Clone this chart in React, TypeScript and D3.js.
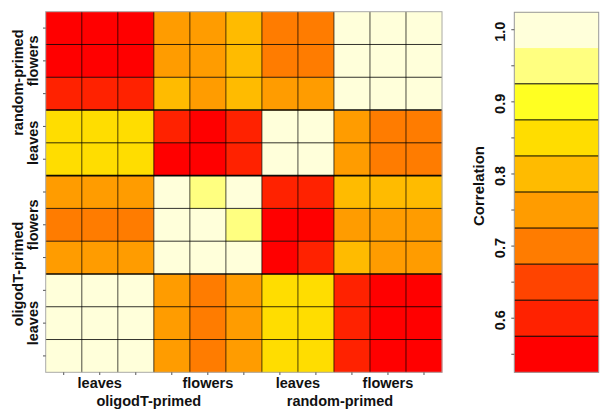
import React from "react";
import * as d3 from "d3";

// Samples in matrix order (columns left→right; rows drawn bottom→top)
const samples = ["OL1", "OL2", "OL3", "OF1", "OF2", "OF3", "RL1", "RL2", "RF1", "RF2", "RF3"];
const tissueLabels = ["leaves", "flowers", "leaves", "flowers"];
const tissueCounts = [3, 3, 2, 3];
const primerLabels = ["oligodT-primed", "random-primed"];
const primerTissueCounts = [2, 2];

// Correlation matrix (row i = sample i)
const corr: number[][] = [
  [1.0, 0.98, 0.98, 0.75, 0.7, 0.75, 0.85, 0.85, 0.6, 0.55, 0.55],
  [0.98, 1.0, 0.98, 0.75, 0.7, 0.75, 0.85, 0.85, 0.6, 0.55, 0.55],
  [0.98, 0.98, 1.0, 0.75, 0.7, 0.75, 0.85, 0.85, 0.6, 0.55, 0.55],
  [0.75, 0.75, 0.75, 1.0, 0.98, 0.98, 0.55, 0.6, 0.8, 0.75, 0.75],
  [0.7, 0.7, 0.7, 0.98, 1.0, 0.95, 0.55, 0.55, 0.75, 0.75, 0.75],
  [0.75, 0.75, 0.75, 0.98, 0.95, 1.0, 0.6, 0.6, 0.8, 0.8, 0.8],
  [0.85, 0.85, 0.85, 0.55, 0.55, 0.6, 1.0, 0.98, 0.75, 0.7, 0.7],
  [0.85, 0.85, 0.85, 0.6, 0.55, 0.6, 0.98, 1.0, 0.75, 0.7, 0.7],
  [0.6, 0.6, 0.6, 0.8, 0.75, 0.8, 0.75, 0.75, 1.0, 0.98, 0.98],
  [0.55, 0.55, 0.55, 0.75, 0.75, 0.8, 0.7, 0.7, 0.98, 1.0, 0.98],
  [0.55, 0.55, 0.55, 0.75, 0.75, 0.8, 0.7, 0.7, 0.98, 0.98, 1.0],
];

// Legend bins
const binEdges = [0.525, 0.575, 0.625, 0.675, 0.725, 0.775, 0.825, 0.875, 0.925, 0.975, 1.025];
const binColors = [
  "#FF0000", "#FF2200", "#FF4400", "#FF7C00", "#FF9C00",
  "#FFBB00", "#FFDD00", "#FFFF22", "#FFFF80", "#FFFFDA",
];
const legendTicks = [0.55, 0.6, 0.65, 0.7, 0.75, 0.8, 0.85, 0.9, 0.95, 1.0];
const legendLabels = [0.6, 0.7, 0.8, 0.9, 1.0];
const legendTitle = "Correlation";

const FONT = "'Liberation Sans', Arial, Helvetica, sans-serif";

export default function App() {
  const W = 600, H = 419;
  const left = 45.7, right = 442, top = 11.7, bottom = 372.3;
  const n = samples.length;

  const x = d3.scaleBand<number>().domain(d3.range(n)).range([left, right]).padding(0);
  const y = d3.scaleBand<number>().domain(d3.range(n)).range([bottom, top]).padding(0);
  const color = d3.scaleThreshold<number, string>().domain(binEdges.slice(1, -1)).range(binColors);

  const lx0 = 514.3, lx1 = 598.7;
  const ly = d3.scaleLinear().domain([binEdges[0], binEdges[binEdges.length - 1]]).range([bottom, top]);

  const tissueStarts: number[] = [];
  let acc = 0;
  tissueCounts.forEach((c) => { tissueStarts.push(acc); acc += c; });
  const tissueCenterX = tissueCounts.map((c, i) => (x(tissueStarts[i])! + x(tissueStarts[i] + c - 1)! + x.bandwidth()) / 2);
  const tissueCenterY = tissueCounts.map((c, i) => (y(tissueStarts[i])! + y(tissueStarts[i] + c - 1)! + y.bandwidth()) / 2);
  const primerGroups = primerTissueCounts.map((c, i) => {
    const first = primerTissueCounts.slice(0, i).reduce((a, b) => a + b, 0);
    return d3.range(first, first + c);
  });
  const groupSpan = (g: number[]) => {
    const s = tissueStarts[g[0]];
    const e = tissueStarts[g[g.length - 1]] + tissueCounts[g[g.length - 1]] - 1;
    return [s, e];
  };
  const primerCenterX = primerGroups.map((g) => { const [s, e] = groupSpan(g); return (x(s)! + x(e)! + x.bandwidth()) / 2; });
  const primerCenterY = primerGroups.map((g) => { const [s, e] = groupSpan(g); return (y(s)! + y(e)! + y.bandwidth()) / 2; });
  const primerOffX = [-5, -12];
  const primerOffY = [0, -11];
  const boundaryIdx = tissueStarts.slice(1);

  return (
    <svg width={W} height={H} style={{ position: "absolute", left: 0, top: 0, background: "#fff" }} fontFamily={FONT}>
      {corr.map((row, i) =>
        row.map((v, j) => (
          <rect key={`c${i}-${j}`} x={x(j)} y={y(i)} width={x.bandwidth() + 0.3} height={y.bandwidth() + 0.3} fill={color(v)} />
        ))
      )}
      {d3.range(1, n).map((j) => (
        <line key={`v${j}`} x1={x(j)} x2={x(j)} y1={top} y2={bottom} stroke="#000" strokeOpacity={0.5} strokeWidth={1.4} />
      ))}
      {d3.range(1, n).map((i) => (
        <line key={`h${i}`} x1={left} x2={right} y1={y(i)! + y.bandwidth()} y2={y(i)! + y.bandwidth()} stroke="#000"
          strokeOpacity={boundaryIdx.includes(i) ? 0.95 : 0.8} strokeWidth={boundaryIdx.includes(i) ? 1.6 : 1} />
      ))}
      <rect x={left} y={top} width={right - left} height={bottom - top} fill="none" stroke="#aaa" strokeWidth={1} />
      {d3.range(n).map((i) => (
        <line key={`ty${i}`} x1={left - 2.7} x2={left} y1={y(i)! + y.bandwidth() / 2} y2={y(i)! + y.bandwidth() / 2} stroke="#555" />
      ))}
      {d3.range(n).map((j) => (
        <line key={`tx${j}`} y1={bottom} y2={bottom + 2.7} x1={x(j)! + x.bandwidth() / 2} x2={x(j)! + x.bandwidth() / 2} stroke="#555" />
      ))}
      {tissueLabels.map((t, i) => (
        <text key={`xl${i}`} x={tissueCenterX[i]} y={382.7} textAnchor="middle" dominantBaseline="central" fontWeight="bold" fontSize={14.5} fill="#111">{t}</text>
      ))}
      {primerLabels.map((p, i) => (
        <text key={`xp${i}`} x={primerCenterX[i] + primerOffX[i]} y={400.7} textAnchor="middle" dominantBaseline="central" fontWeight="bold" fontSize={14.5} fill="#111">{p}</text>
      ))}
      {tissueLabels.map((t, i) => (
        <text key={`yl${i}`} transform={`translate(33,${tissueCenterY[i]}) rotate(-90)`} textAnchor="middle" dominantBaseline="central" fontWeight="bold" fontSize={14.5} fill="#111">{t}</text>
      ))}
      {primerLabels.map((p, i) => (
        <text key={`yp${i}`} transform={`translate(17.5,${primerCenterY[i] + primerOffY[i]}) rotate(-90)`} textAnchor="middle" dominantBaseline="central" fontWeight="bold" fontSize={14.5} fill="#111">{p}</text>
      ))}

      {binColors.map((c, k) => (
        <rect key={`lb${k}`} x={lx0} y={ly(binEdges[k + 1])} width={lx1 - lx0} height={ly(binEdges[k]) - ly(binEdges[k + 1]) + 0.3} fill={c} />
      ))}
      {binEdges.slice(1, -2).map((e, k) => (
        <line key={`ll${k}`} x1={lx0} x2={lx1} y1={ly(e)} y2={ly(e)} stroke="#000" strokeWidth={1} />
      ))}
      <rect x={lx0} y={top + 0.6} width={lx1 - lx0} height={bottom - top - 0.6} fill="none" stroke="#999" strokeWidth={1} />
      {legendTicks.map((t) => (
        <line key={`lt${t}`} x1={lx0 - 3} x2={lx0} y1={ly(t)} y2={ly(t)} stroke="#555" />
      ))}
      {legendLabels.map((t) => (
        <text key={`lbl${t}`} transform={`translate(500,${ly(t) + 2}) rotate(-90)`} textAnchor="middle" dominantBaseline="central" fontWeight="bold" fontSize={14.5} fill="#111">{d3.format(".1f")(t)}</text>
      ))}
      <text transform={`translate(478,186) rotate(-90)`} textAnchor="middle" dominantBaseline="central" fontWeight="bold" fontSize={15} fill="#111">{legendTitle}</text>
    </svg>
  );
}
